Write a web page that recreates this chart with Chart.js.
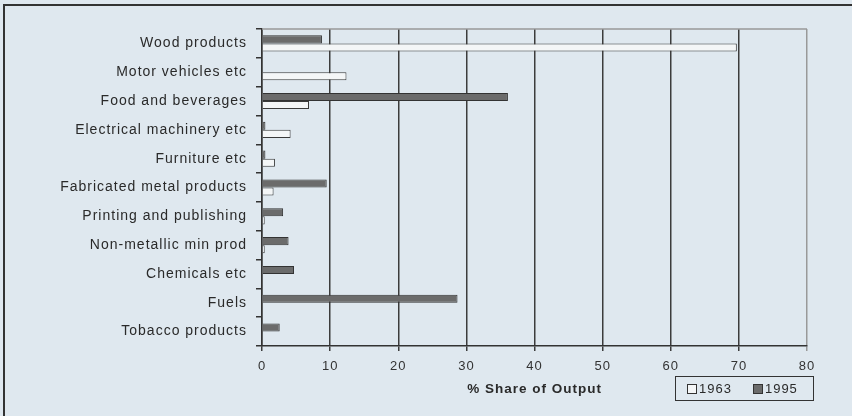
<!DOCTYPE html>
<html>
<head>
<meta charset="utf-8">
<script src="https://cdn.jsdelivr.net/npm/chart.js@4"></script>
<style>
    html, body { margin: 0; background: #dfe8ef; overflow: hidden; }
    #wrap { position: relative; width: 852px; height: 416px; }
    #chart { display: block; }
    #frame { position: absolute; left: 3px; top: 4px; right: 0; bottom: 0;
             border-top: 2px solid #333; border-left: 2px solid #333; }
    #legend { position: absolute; left: 675px; top: 376px; width: 137px; height: 23px;
              border: 1.5px solid #333; font: 13px "Liberation Sans", Arial, sans-serif;
              letter-spacing: 1px; color: #2a2a2a; display: flex; align-items: center; }
    .sw { display: inline-block; width: 8px; height: 8px; border: 1px solid #333; margin-right: 2px; }
</style>
</head>
<body>
<div id="wrap">
    <div id="frame"></div>
    <canvas id="chart" width="852" height="416"></canvas>
    <div id="legend">
        <span class="sw" style="background:#f4f6f7; margin-left:11px"></span><span>1963</span>
        <span class="sw" style="background:#6b6b6b; margin-left:21px"></span><span>1995</span>
    </div>
</div>
<script>
// dados
const categorias = ['Wood products', 'Motor vehicles etc', 'Food and beverages', 'Electrical machinery etc',
    'Furniture etc', 'Fabricated metal products', 'Printing and publishing', 'Non-metallic min prod',
    'Chemicals etc', 'Fuels', 'Tobacco products'];
const valores1963 = [69.7, 12.4, 6.9, 4.2, 1.9, 1.7, 0.4, 0.4, 0, 0, 0];
const valores1995 = [8.8, 0, 36.1, 0.5, 0.5, 9.5, 3.1, 3.9, 4.7, 28.7, 2.6];
const ticksX = [0, 10, 20, 30, 40, 50, 60, 70, 80];

const fonte = '"Liberation Sans", Arial, sans-serif';

// espaçamento de letras e moldura superior do gráfico
const estiloPlugin = {
    id: 'estilo',
    beforeDraw(chart) {
        chart.ctx.letterSpacing = '1px';
    },
    afterDatasetsDraw(chart) {
        const a = chart.chartArea;
        const ctx = chart.ctx;
        ctx.save();
        ctx.strokeStyle = '#999';
        ctx.lineWidth = 1.5;
        ctx.beginPath();
        ctx.moveTo(a.left, a.top);
        ctx.lineTo(a.right, a.top);
        ctx.stroke();
        ctx.restore();
    }
};

const ctx = document.getElementById('chart').getContext('2d');
new Chart(ctx, {
    type: 'bar',
    data: {
        labels: categorias,
        datasets: [{
            label: '1995',
            data: valores1995,
            backgroundColor: '#6b6b6b',
            borderColor: '#333',
            borderWidth: 1
        }, {
            label: '1963',
            data: valores1963,
            backgroundColor: '#f4f6f7',
            borderColor: '#3a3a3a',
            borderWidth: 1
        }]
    },
    options: {
        indexAxis: 'y',
        responsive: false,
        animation: false,
        layout: { padding: { left: 0, right: 45, top: 29, bottom: 0 } },
        datasets: { bar: { categoryPercentage: 0.56, barPercentage: 1 } },
        plugins: { legend: { display: false }, tooltip: { enabled: false } },
        scales: {
            x: {
                min: 0,
                max: 80,
                afterFit(scale) { scale.height = 70; },
                afterBuildTicks(scale) { scale.ticks = ticksX.map(v => ({ value: v })); },
                ticks: { color: '#333', font: { family: fonte, size: 13 }, padding: 8 },
                grid: {
                    color: c => (c.tick && c.tick.value === 80) ? '#999' : '#3c3c3c',
                    lineWidth: 1.5,
                    tickLength: 5
                },
                border: { color: '#333', width: 1.5 },
                title: {
                    display: true,
                    text: '% Share of Output',
                    color: '#2a2a2a',
                    font: { family: fonte, size: 13.5, weight: 'bold' },
                    padding: { top: 0, bottom: 19 }
                }
            },
            y: {
                afterFit(scale) { scale.width = 262; },
                ticks: { color: '#2a2a2a', font: { family: fonte, size: 14 }, padding: 9 },
                grid: { offset: true, drawOnChartArea: false, tickLength: 6, color: '#333', lineWidth: 1.5 },
                border: { color: '#333', width: 1.5 }
            }
        }
    },
    plugins: [estiloPlugin]
});
</script>
</body>
</html>
